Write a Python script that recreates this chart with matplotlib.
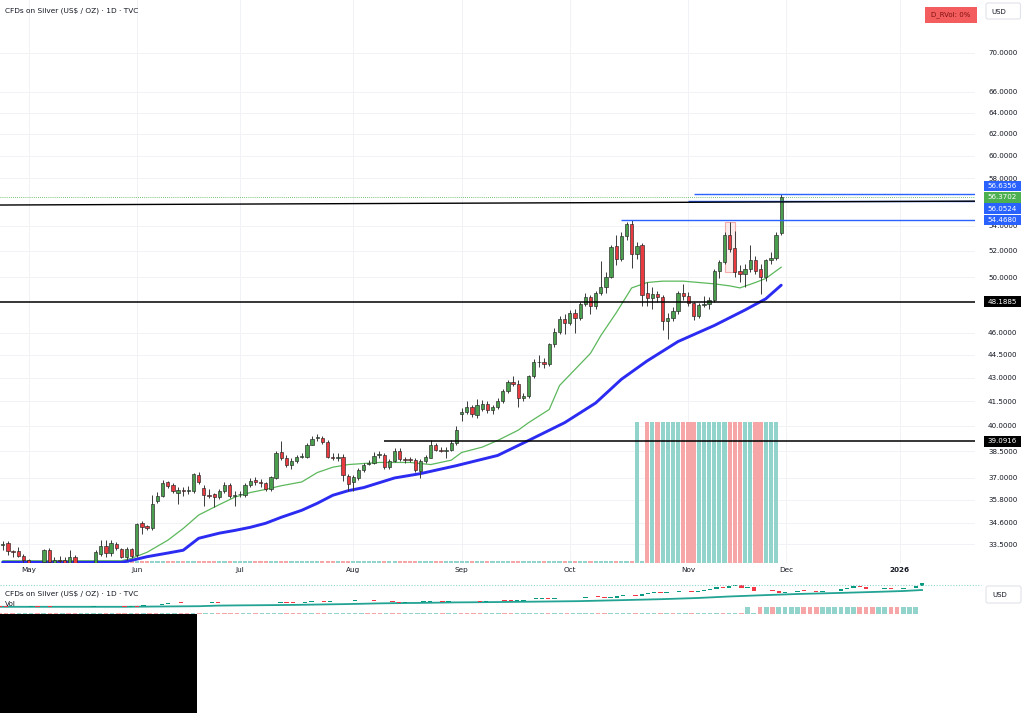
import numpy as np
import pandas as pd
import matplotlib
matplotlib.use("Agg")
import matplotlib.pyplot as plt
import matplotlib.transforms as mtransforms
from matplotlib.patches import Rectangle, FancyBboxPatch
from matplotlib.ticker import FixedLocator, FuncFormatter

plt.rcParams["font.family"] = ["DejaVu Sans"]

W, H, DPI = 1024, 713, 100

TITLE = "CFDs on Silver (US$ / OZ) \u00b7 1D \u00b7 TVC"

# trading calendar of the feed (no bar on US holidays)
HOLIDAYS = ["2025-05-26", "2025-06-19", "2025-07-04", "2025-09-01",
            "2025-11-27", "2025-12-25", "2026-01-01"]

# daily OHLC, 24 Apr 2025 -> 28 Nov 2025
opens = [
    33.45, 33.55, 33.15, 33.15, 32.90,
    32.70, 32.00, 32.10, 32.60, 33.20, 32.50, 32.70, 32.70, 32.50, 32.85, 32.50,
    32.20, 32.30, 32.45, 33.00, 33.40, 33.05, 33.50, 33.25, 32.85, 33.25,
    32.95, 34.60, 34.45, 34.35, 35.75, 36.00, 36.75, 36.60, 36.20, 36.35, 36.30,
    36.30, 37.15, 36.45, 36.05, 36.10, 35.95, 36.30, 36.60, 36.00,
    36.10, 36.05, 36.60, 36.90, 36.75, 36.70, 36.40, 37.00, 38.45, 38.15, 37.70,
    37.95, 38.20, 38.20, 38.90, 39.30, 39.30, 39.05, 38.20, 38.15, 38.20, 37.10,
    36.75, 37.00, 37.45, 37.80, 37.85, 38.30, 38.30, 37.60, 37.95, 38.55, 38.05,
    38.05, 38.00, 37.40, 37.95, 38.15, 38.90, 38.60, 38.55, 38.60, 39.00,
    40.75, 40.85, 41.15, 40.65, 41.05, 41.35, 40.95, 41.15, 41.50, 42.15, 42.75,
    42.60, 41.70, 41.85, 43.10, 44.00, 44.05, 43.90, 45.20, 46.05, 46.95,
    46.70, 47.35, 47.05, 48.00, 48.55, 47.85, 48.85, 49.30, 50.00, 52.40, 51.40,
    53.20, 54.15, 51.80, 52.45, 48.80, 48.45, 48.75, 48.50, 46.85, 47.05, 47.50, 48.85,
    48.60, 48.10, 47.20, 47.95, 48.05, 48.30, 50.50, 51.15, 53.25, 52.20, 50.50,
    50.20, 50.65, 51.30, 50.60, 50.00, 51.30, 51.45, 53.45,
]
highs = [
    33.65, 33.65, 33.20, 33.35, 33.00,
    32.75, 32.40, 32.55, 33.25, 33.30, 32.85, 32.90, 32.85, 33.20, 32.95, 32.55,
    32.50, 32.55, 33.20, 33.70, 33.70, 33.70, 33.60, 33.30, 33.35, 33.30,
    34.60, 34.70, 34.50, 36.05, 36.25, 36.90, 36.85, 36.70, 36.50, 36.50, 36.55,
    37.30, 37.35, 36.60, 36.40, 36.20, 36.40, 36.80, 36.70, 36.30,
    36.30, 36.70, 37.00, 37.05, 36.95, 36.80, 37.10, 38.50, 39.10, 38.30, 38.10,
    38.30, 38.40, 39.00, 39.40, 39.50, 39.40, 39.15, 38.40, 38.40, 38.35, 37.20,
    37.15, 37.55, 37.85, 38.00, 38.45, 38.50, 38.40, 38.05, 38.70, 38.70, 38.20,
    38.20, 38.10, 38.05, 38.30, 39.15, 39.00, 38.75, 38.75, 39.15, 40.00,
    41.10, 41.50, 41.30, 41.65, 41.60, 41.50, 41.30, 41.70, 42.30, 42.85, 43.10,
    42.85, 42.00, 43.20, 44.25, 44.50, 44.30, 45.30, 46.30, 47.20, 47.30,
    47.60, 47.65, 48.20, 48.80, 48.70, 49.00, 51.20, 50.40, 52.50, 53.30, 53.50,
    54.30, 54.468, 52.70, 52.60, 49.60, 49.30, 49.00, 48.70, 47.40, 47.80, 49.00, 49.50,
    48.90, 48.20, 48.10, 48.60, 48.50, 50.60, 51.30, 53.50, 54.30, 53.60, 50.90,
    51.00, 52.45, 51.60, 51.00, 51.40, 51.90, 53.50, 56.6356,
]
lows = [
    33.20, 32.95, 32.85, 32.85, 32.50,
    31.70, 31.80, 32.00, 32.40, 32.40, 32.30, 32.50, 32.20, 32.30, 32.30, 31.90,
    31.70, 32.00, 32.30, 32.90, 32.85, 32.90, 33.20, 32.80, 32.70, 32.80,
    32.85, 34.00, 34.20, 34.20, 35.65, 35.95, 36.45, 36.15, 35.60, 36.00, 36.10,
    36.20, 36.65, 35.50, 35.90, 35.40, 35.85, 36.20, 35.90, 35.50,
    35.95, 35.95, 36.50, 36.60, 36.50, 36.30, 36.30, 36.95, 38.00, 37.60, 37.50,
    37.85, 38.10, 38.10, 38.85, 39.10, 38.95, 38.10, 38.00, 37.95, 36.85, 36.30,
    36.30, 36.90, 37.35, 37.70, 37.80, 38.10, 37.50, 37.50, 37.90, 37.95, 37.85,
    37.90, 37.35, 37.00, 37.85, 38.10, 38.50, 38.45, 38.10, 38.50, 38.90,
    40.30, 40.70, 40.55, 40.50, 40.90, 40.80, 40.75, 41.00, 41.40, 42.05, 42.50,
    41.15, 41.50, 41.70, 43.00, 43.70, 43.60, 43.75, 45.05, 45.90, 45.90,
    46.55, 45.95, 46.90, 47.90, 47.30, 47.70, 48.70, 48.80, 49.90, 50.90, 51.20,
    52.90, 50.70, 51.40, 47.90, 47.90, 47.70, 48.20, 46.20, 45.60, 46.80, 47.30, 48.30,
    47.90, 46.90, 47.00, 47.80, 47.70, 48.20, 49.90, 51.00, 51.90, 50.00, 49.60,
    49.30, 50.40, 50.20, 48.75, 49.70, 51.00, 51.30, 53.30,
]
closes = [
    33.50, 33.15, 33.12, 32.90, 32.70,
    32.00, 32.00, 32.50, 33.20, 32.60, 32.70, 32.65, 32.40, 32.85, 32.50, 32.20,
    32.30, 32.40, 33.10, 33.40, 33.05, 33.55, 33.30, 32.85, 33.25, 32.90,
    34.55, 34.40, 34.35, 35.60, 36.00, 36.70, 36.55, 36.30, 36.35, 36.30, 36.35,
    37.20, 36.75, 36.05, 36.00, 35.95, 36.30, 36.60, 36.00, 36.05,
    36.10, 36.60, 36.85, 36.75, 36.70, 36.40, 37.05, 38.40, 38.15, 37.70, 37.95,
    38.20, 38.25, 38.90, 39.25, 39.30, 39.05, 38.20, 38.15, 38.20, 37.15, 36.65,
    37.05, 37.45, 37.75, 37.85, 38.25, 38.30, 37.60, 37.95, 38.55, 38.05, 38.00,
    38.00, 37.45, 37.95, 38.20, 38.90, 38.60, 38.55, 38.60, 39.00, 39.75,
    40.85, 41.15, 40.70, 41.30, 41.35, 40.95, 41.15, 41.50, 42.15, 42.70, 42.60,
    41.70, 41.85, 43.10, 44.05, 44.05, 43.90, 45.20, 46.05, 46.95, 46.70,
    47.35, 47.05, 48.00, 48.55, 47.85, 48.85, 49.30, 50.00, 52.35, 51.40, 53.20,
    54.15, 51.80, 52.40, 48.70, 48.45, 48.75, 48.55, 46.85, 47.05, 47.50, 48.85, 48.60,
    48.10, 47.20, 47.95, 48.05, 48.30, 50.50, 51.15, 53.25, 52.15, 50.40, 50.20,
    50.65, 51.30, 50.50, 50.00, 51.30, 51.45, 53.30, 56.3702,
]

# moving averages
ma_fast_dates = ["2025-04-24", "2025-05-28", "2025-05-30", "2025-06-04", "2025-06-10",
                 "2025-06-13", "2025-06-18", "2025-06-25", "2025-06-30", "2025-07-03",
                 "2025-07-09", "2025-07-14", "2025-07-18", "2025-07-23", "2025-07-28",
                 "2025-07-31", "2025-08-08", "2025-08-18", "2025-08-22", "2025-08-28",
                 "2025-09-02", "2025-09-08", "2025-09-11", "2025-09-17", "2025-09-19",
                 "2025-09-25", "2025-09-29", "2025-10-07", "2025-10-09", "2025-10-14",
                 "2025-10-17", "2025-10-22", "2025-10-27", "2025-10-31", "2025-11-05",
                 "2025-11-10", "2025-11-13", "2025-11-17", "2025-11-20", "2025-11-24",
                 "2025-11-28"]
ma_fast_vals = [32.68, 32.68, 32.80, 33.10, 33.70, 34.30, 35.00, 35.55, 35.95, 36.20,
                36.37, 36.57, 36.78, 37.30, 37.60, 37.75, 37.87, 37.87, 37.75, 38.00,
                38.44, 38.75, 39.14, 39.75, 40.20, 41.00, 42.50, 44.60, 45.80, 47.40,
                49.20, 49.60, 49.70, 49.70, 49.60, 49.50, 49.35, 49.20, 49.60, 49.90,
                50.75]
ma_slow_dates = ["2025-04-24", "2025-05-28", "2025-05-30", "2025-06-04", "2025-06-10",
                 "2025-06-13", "2025-06-18", "2025-06-25", "2025-06-30", "2025-07-03",
                 "2025-07-09", "2025-07-14", "2025-07-18", "2025-07-23", "2025-07-28",
                 "2025-07-31", "2025-08-05", "2025-08-13", "2025-08-20", "2025-08-29",
                 "2025-09-11", "2025-09-19", "2025-09-30", "2025-10-08", "2025-10-15",
                 "2025-10-22", "2025-10-30", "2025-11-10", "2025-11-18", "2025-11-24",
                 "2025-11-28"]
ma_slow_vals = [32.60, 32.60, 32.70, 32.88, 33.06, 33.20, 33.80, 34.06, 34.20, 34.36,
                34.57, 34.88, 35.25, 35.62, 36.05, 36.30, 36.47, 37.00, 37.24, 37.69,
                38.27, 39.14, 40.20, 41.40, 42.90, 44.10, 45.40, 46.50, 47.60, 48.40,
                49.40]

# relative-volume columns from 20 Oct ("u" teal, "d" red, "-" empty)
rvol_start = "2025-10-20"
rvol_dir = ["u", "-", "d", "u", "d", "u", "u", "u", "u", "d", "d", "d", "u", "u",
            "u", "u", "u", "u", "d", "d", "d", "u", "u", "d", "d", "u", "u", "u"]

# drawn levels
level_prices = [56.6356, 56.0524, 54.4680, 48.1885, 39.0916]
level_starts = ["2025-11-04", "2025-11-03", "2025-10-15", None, "2025-08-11"]
level_colors = ["#2962ff", "#2962ff", "#2962ff", "#000000", "#000000"]
trend_points = [("2025-04-24", 55.71), ("2025-11-28", 55.97)]
box_dates = ["2025-11-12", "2025-11-14"]
box_prices = [50.35, 54.30]

price_ticks = [70, 66, 64, 62, 60, 58, 54, 52, 50, 46, 44.5, 43, 41.5, 40,
               38.5, 37, 35.8, 34.6, 33.5]

GREEN, RED = "#4a9f4e", "#e83a3f"
TEAL_PALE, RED_PALE = "#92d3cb", "#f6a6a6"
TXT = "#131722"
GRID = "#f0f2f6"

calendar = pd.bdate_range("2025-04-24", "2026-01-30")
calendar = calendar[~calendar.isin(pd.to_datetime(HOLIDAYS))]
idx = {d.strftime("%Y-%m-%d"): i for i, d in enumerate(calendar)}

o, h, l, c = (np.array(a, float) for a in (opens, highs, lows, closes))
n = len(c)
x = np.arange(n)
up = c >= o


def px_rect(x0, y0, x1, y1):
    return [x0 / W, 1 - y1 / H, (x1 - x0) / W, (y1 - y0) / H]


fig = plt.figure(figsize=(W / DPI, H / DPI), dpi=DPI)
fig.patch.set_facecolor("white")

# ---------------- main price pane ----------------
ax = fig.add_axes(px_rect(0, 0, 975, 563))
ax.set_yscale("log")
XLIM = (-2.8 / 5.155, (975 - 2.8) / 5.155)
ax.set_xlim(*XLIM)
ax.set_ylim(32.57, 75.76)
ax.minorticks_off()
for s in ax.spines.values():
    s.set_visible(False)

ax.yaxis.tick_right()
ax.yaxis.set_major_locator(FixedLocator(price_ticks))
ax.yaxis.set_major_formatter(FuncFormatter(lambda v, _: f"{v:.4f}"))
ax.tick_params(axis="y", length=0, pad=9.4, labelsize=5.1, labelcolor=TXT)

month_pos, month_lab = [], []
for i in range(1, len(calendar)):
    if calendar[i].month != calendar[i - 1].month:
        month_pos.append(i)
        month_lab.append(str(calendar[i].year) if calendar[i].month == 1
                         else calendar[i].strftime("%b"))
ax.set_xticks(month_pos)
ax.set_xticklabels(month_lab)
ax.tick_params(axis="x", length=0, pad=3, labelsize=5.2, labelcolor=TXT)
for t in ax.get_xticklabels():
    if t.get_text().isdigit():
        t.set_fontweight("bold")
ax.grid(True, color=GRID, lw=0.7, zorder=0)
ax.set_axisbelow(True)

# relative volume overlay (bottom quarter of the pane)
blend = mtransforms.blended_transform_factory(ax.transData, ax.transAxes)
r0 = idx[rvol_start]
for i in range(r0):
    ax.add_patch(Rectangle((i - 0.4, 0), 0.8, 0.004, transform=blend, lw=0,
                           color=TEAL_PALE if up[i] else RED_PALE, zorder=1))
for k, d in enumerate(rvol_dir):
    hgt = 0.004 if d == "-" else 0.2504
    ax.add_patch(Rectangle((r0 + k - 0.41, 0), 0.82, hgt, transform=blend, lw=0,
                           color=RED_PALE if d == "d" else TEAL_PALE, zorder=1))

# moving averages
ax.plot([idx[d] for d in ma_fast_dates], ma_fast_vals, color="#5cb85c", lw=0.9,
        zorder=3)
ax.plot([idx[d] for d in ma_slow_dates], ma_slow_vals, color="#2b2bf2", lw=2.1,
        zorder=3, solid_capstyle="round")

# candles
ax.vlines(x, l, h, color="#3a3a3a", lw=0.7, zorder=4)
lo = np.minimum(o, c)
hi = np.maximum(np.maximum(o, c), lo * 1.0009)
ax.bar(x, hi - lo, bottom=lo, width=0.64, color=np.where(up, GREEN, RED),
       edgecolor="#262626", linewidth=0.45, zorder=5)

# drawings
for p, st, col in zip(level_prices, level_starts, level_colors):
    x0 = XLIM[0] if st is None else idx[st]
    ax.hlines(p, x0, XLIM[1], color=col, lw=1.0 if col != "#000000" else 1.1,
              zorder=6)
(d1, p1), (d2, p2) = trend_points
ax.axline((idx[d1], p1), (idx[d2], p2), color="black", lw=1.0, zorder=6)
ax.axhline(c[-1], color="#4caf50", lw=0.6, ls=(0, (1, 1.5)), zorder=2)
bx0, bx1 = idx[box_dates[0]], idx[box_dates[1]]
ax.add_patch(Rectangle((bx0, box_prices[0]), bx1 - bx0, box_prices[1] - box_prices[0],
                       facecolor="#fce4e4", edgecolor="#f28c8c", lw=0.8, alpha=0.7,
                       zorder=3.5))

# ---------------- mini overview pane ----------------
ax2 = fig.add_axes(px_rect(0, 580, 975, 614))
ax2.set_xlim(2.99, 159.5)
ax2.set_ylim(25.4, 59.4)
ax2.axis("off")
ax2.plot([idx[d] for d in ma_slow_dates], ma_slow_vals, color="#22a393", lw=1.3,
         zorder=3)
ax2.bar(x, np.maximum(np.abs(c - o), 0.4), bottom=lo, width=0.7,
        color=np.where(up, "#089981", "#f23645"), lw=0, zorder=4)
blend2 = mtransforms.blended_transform_factory(ax2.transData, ax2.transAxes)
for i in range(r0):
    ax2.add_patch(Rectangle((i - 0.35, 0.0), 0.7, 0.02, transform=blend2, lw=0,
                            color=TEAL_PALE if up[i] else RED_PALE))
for k, d in enumerate(rvol_dir):
    hgt = 0.02 if d == "-" else 0.215
    ax2.add_patch(Rectangle((r0 + k - 0.38, 0.0), 0.76, hgt, transform=blend2, lw=0,
                            color=RED_PALE if d == "d" else TEAL_PALE))

# ---------------- overlay in pixel space ----------------
ov = fig.add_axes([0, 0, 1, 1], zorder=10)
ov.set_xlim(0, W)
ov.set_ylim(H, 0)
ov.axis("off")
ov.patch.set_alpha(0)

fig.canvas.draw()


def price_px(p):
    return H - ax.transData.transform((0, p))[1]


def spread(ys, gap):
    order = sorted(range(len(ys)), key=lambda i: ys[i])
    clusters = [[i] for i in order]

    def place(cl):
        m = np.mean([ys[i] for i in cl])
        return [m + (k - (len(cl) - 1) / 2) * gap for k in range(len(cl))]

    merged = True
    while merged:
        merged = False
        for j in range(len(clusters) - 1):
            if place(clusters[j])[-1] + gap > place(clusters[j + 1])[0]:
                clusters[j] += clusters.pop(j + 1)
                merged = True
                break
    out = [0.0] * len(ys)
    for cl in clusters:
        for i, y in zip(cl, place(cl)):
            out[i] = y
    return out


tags = [(p, col) for p, col in zip(level_prices, level_colors)] + [(c[-1], "#4caf50")]
tag_y = spread([price_px(p) for p, _ in tags], 11.3)
for (p, col), y in zip(tags, tag_y):
    ov.add_patch(Rectangle((984, y - 5.3), 37, 10.6, color=col, lw=0))
    ov.text(1002.5, y, f"{p:.4f}", color="white", fontsize=5.1, ha="center",
            va="center")

ov.text(5, 11, TITLE, fontsize=5.3, color=TXT, va="center")
ov.add_patch(Rectangle((925, 6.7), 51.7, 16.6, color="#f45d5d", lw=0))
ov.text(950.8, 15, "D_RVol: 0%", fontsize=5, color="#7d1212", ha="center",
        va="center")
ov.add_patch(FancyBboxPatch((986, 3), 34.5, 16, boxstyle="round,pad=0,rounding_size=2",
                            facecolor="white", edgecolor="#e0e3eb", lw=0.8))
ov.text(991, 11.5, "USD", fontsize=5, color=TXT, va="center")

ov.plot([0, 981], [584.5, 584.5], color="#8fd6cd", lw=0.8, ls=(0, (1, 1.5)))
ov.text(5, 594, TITLE, fontsize=5.3, color=TXT, va="center")
ov.text(5, 604.5, "Vol", fontsize=5.2, color=TXT, va="center")
ov.add_patch(FancyBboxPatch((986, 586), 35, 17, boxstyle="round,pad=0,rounding_size=2",
                            facecolor="white", edgecolor="#e0e3eb", lw=0.8))
ov.text(992, 595, "USD", fontsize=5, color=TXT, va="center")
ov.add_patch(Rectangle((0, 614), 197, 99, color="black", lw=0))

fig.savefig("out.png", dpi=DPI, facecolor="white")
